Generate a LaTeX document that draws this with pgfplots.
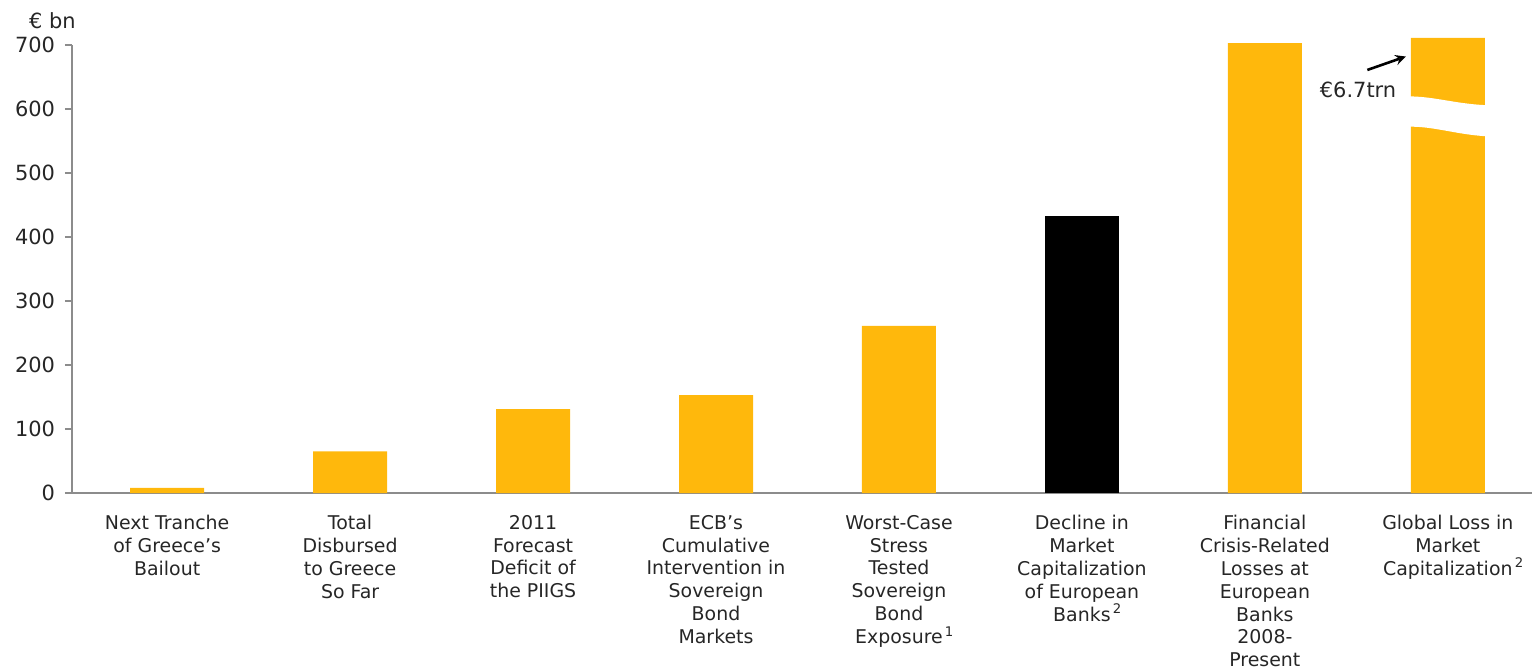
\documentclass[border=0pt]{standalone}
\usepackage{pgfplots}
\pgfplotsset{compat=1.18}
\usepackage{fontspec}
\setmainfont{DejaVu Sans}
\definecolor{barY}{RGB}{255,184,12}
\definecolor{axG}{RGB}{140,140,140}
\begin{document}
\begin{tikzpicture}
\useasboundingbox (-36bp,-89.5bp) rectangle (730bp,246.5bp);
\begin{axis}[
 scale only axis, width=730bp, height=224bp,
 xmin=-0.52, xmax=7.46, ymin=0, ymax=700,
 axis x line*=bottom, axis y line*=left,
 axis line style={axG, line width=0.75bp, -},
 ytick={0,100,...,700},
 ytick style={axG, line width=0.6bp},
 tick align=outside, major tick length=3.5bp,
 xtick={0,...,7}, xtick style={draw=none},
 xticklabels={
  {Next Tranche\\of Greece's\\Bailout},
  {Total\\Disbursed\\to Greece\\So Far},
  {2011\\Forecast\\Deficit of\\the PIIGS},
  {ECB's\\Cumulative\\Intervention in\\Sovereign\\Bond\\Markets},
  {Worst-Case\\Stress\\Tested\\Sovereign\\Bond\\Exposure\rlap{\textsuperscript{\,1}}},
  {Decline in\\Market\\Capitalization\\of European\\Banks\rlap{\textsuperscript{\,2}}},
  {Financial\\Crisis-Related\\Losses at\\European\\Banks\\2008-\\Present},
  {Global Loss in\\Market\\Capitalization\rlap{\textsuperscript{\,2}}}},
 xticklabel style={align=center, anchor=north, font=\fontsize{9.5}{11.5}\selectfont, yshift=-4bp, text=black!85},
 yticklabel style={font=\fontsize{10.5}{12}\selectfont, text=black!85, xshift=-1.5bp},
 /pgf/number format/assume math mode=true,
 clip=false,
]
\addplot[ybar, bar shift=0pt, bar width=37bp, fill=barY, draw=none]
 coordinates {(0,8) (1,65) (2,131) (3,153) (4,261) (6,703) (7,711)};
\addplot[ybar, bar shift=0pt, bar width=37bp, fill=black, draw=none]
 coordinates {(5,433)};
% break in the last bar
\fill[white] (axis cs:6.7,618) .. controls (axis cs:6.9,626) and (axis cs:7.05,603) .. (axis cs:7.3,606)
  -- (axis cs:7.3,557) .. controls (axis cs:7.05,555) and (axis cs:6.9,580) .. (axis cs:6.7,570) -- cycle;
\node[anchor=base east, font=\fontsize{10.5}{12}\selectfont, text=black!85, inner sep=0pt] at (axis cs:6.72,618) {€6.7trn};
\draw[-stealth, line width=1.3bp] (axis cs:6.56,661) -- (axis cs:6.77,682);
\node[anchor=base east, font=\fontsize{10.5}{12}\selectfont, text=black!85, inner sep=0pt] at ([xshift=2bp, yshift=8.5bp]rel axis cs:0,1) {€ bn};
\end{axis}
\end{tikzpicture}
\end{document}
